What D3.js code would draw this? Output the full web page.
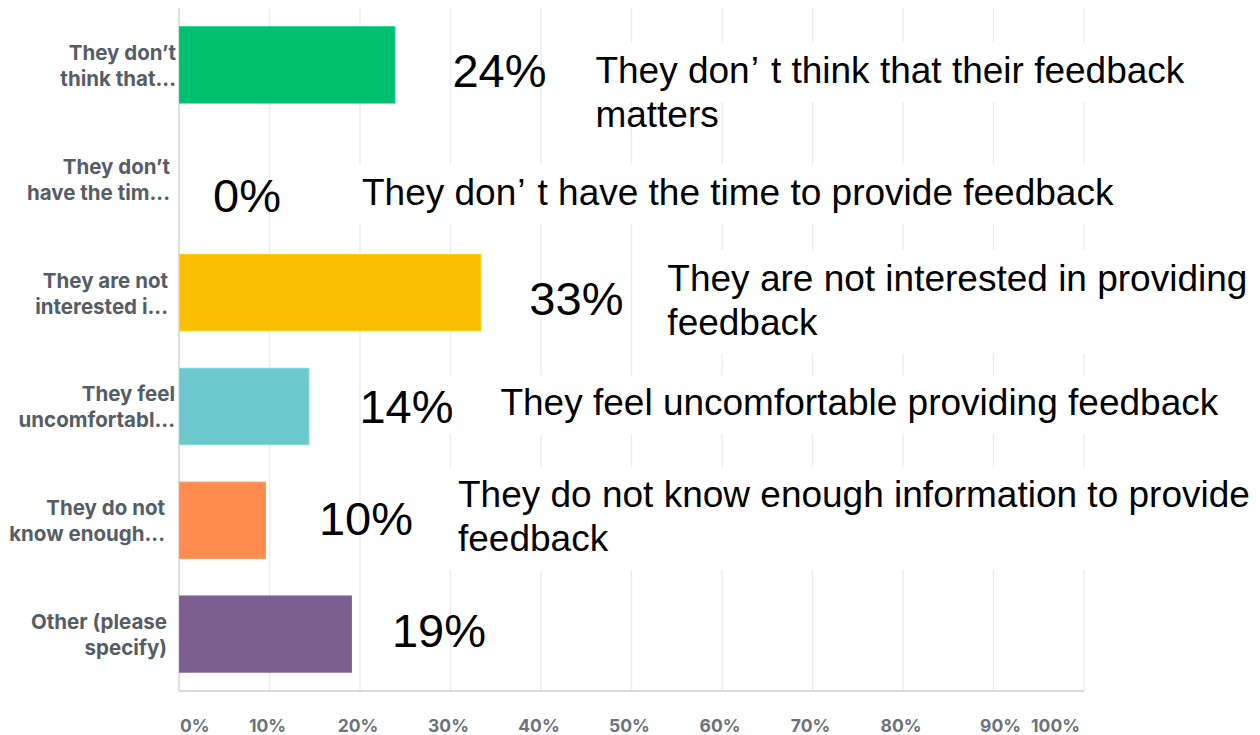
<!DOCTYPE html>
<html>
<head>
<meta charset="utf-8">
<script src="https://cdn.jsdelivr.net/npm/d3@7"></script>
<style>
  html, body { margin: 0; padding: 0; background: #fff; }
  svg { display: block; }
</style>
</head>
<body>
<svg id="chart" width="1260" height="735"></svg>
<script>
// ---------- data ----------
const categories = [
  ["They don’t", "think that..."],
  ["They don’t", "have the tim..."],
  ["They are not", "interested i..."],
  ["They feel", "uncomfortabl..."],
  ["They do not", "know enough..."],
  ["Other (please", "specify)"]
];
const values = [23.8, 0, 33.3, 14.3, 9.5, 19.0];
const barColors = ["#00bf6f", "#507cb6", "#f9be00", "#6bc8cd", "#ff8b4f", "#7d5e90"];
const pctLabels = ["24%", "0%", "33%", "14%", "10%", "19%"];
const annotations = [
  ["They don’t think that their feedback", "matters"],
  ["They don’t have the time to provide feedback"],
  ["They are not interested in providing", "feedback"],
  ["They feel uncomfortable providing feedback"],
  ["They do not know enough information to provide", "feedback"],
  []
];
const tickValues = [0, 10, 20, 30, 40, 50, 60, 70, 80, 90, 100];
const tickLabels = ["0%", "10%", "20%", "30%", "40%", "50%", "60%", "70%", "80%", "90%", "100%"];

// ---------- layout (annotation placement, relative to bar end / band centre) ----------
const pctDx = [58, 34, 49, 51, 54, 41];
const pctDy = [22, 33, 22, 17, 15, 13];
const txtDx = [201, 183, 187, 192, 193, 0];
const txtDy = [18, 26, -2, 9, -13, 0];
const boxPadLeft = [10, 8, 30, 55, 12, 0];
const boxFirstLineOnly = [true, false, false, false, false, false];
const catRight = [176, 170, 168, 175, 165, 167];

// ---------- chart ----------
const svg = d3.select("#chart");
const margin = { left: 179, right: 176, top: 8, bottom: 44 };
const W = 1260, H = 735;
const annFont = 37;

const x = d3.scaleLinear().domain([0, 100]).range([margin.left, W - margin.right]);
const y = d3.scaleBand()
  .domain(d3.range(categories.length))
  .range([margin.top, H - margin.bottom])
  .paddingInner(0.33)
  .paddingOuter(0.165);

const yTop = margin.top, yBot = H - margin.bottom;

// gridlines
svg.append("g").selectAll("line")
  .data(tickValues.filter(d => d > 0))
  .join("line")
  .attr("x1", d => x(d)).attr("x2", d => x(d))
  .attr("y1", yTop).attr("y2", yBot)
  .attr("stroke", "#ebebeb").attr("stroke-width", 1.3);

// white boxes layer (behind annotation texts)
const boxLayer = svg.append("g");

// axes lines
svg.append("line")
  .attr("x1", x(0)).attr("x2", x(0)).attr("y1", yTop).attr("y2", yBot)
  .attr("stroke", "#d4d4d4").attr("stroke-width", 1.5);
svg.append("line")
  .attr("x1", x(0)).attr("x2", x(100)).attr("y1", yBot).attr("y2", yBot)
  .attr("stroke", "#cfcfcf").attr("stroke-width", 1.5);

// bars
svg.append("g").selectAll("rect")
  .data(values)
  .join("rect")
  .attr("x", x(0) + 0.5)
  .attr("y", (d, i) => y(i))
  .attr("width", d => Math.max(0, x(d) - x(0)))
  .attr("height", y.bandwidth())
  .attr("fill", (d, i) => barColors[i])
  .attr("stroke", (d, i) => d3.color(barColors[i]).brighter(0.25))
  .attr("stroke-width", d => d > 0 ? 1 : 0);

// category labels
const catG = svg.append("g");
categories.forEach((lines, i) => {
  const cy = y(i) + y.bandwidth() / 2;
  const t = catG.append("text")
    .attr("text-anchor", "end")
    .attr("font-family", "Inter, 'Open Sans', sans-serif")
    .attr("font-weight", 700)
    .attr("font-size", 20.5)
    .attr("fill", "#555d66");
  lines.forEach((ln, k) => {
    t.append("tspan").attr("x", catRight[i]).attr("y", cy - 5 + k * 26).text(ln);
  });
});

// x tick labels
svg.append("g").selectAll("text")
  .data(tickValues)
  .join("text")
  .attr("x", (d, i) => i === 0 ? x(d) + 1 : i === tickValues.length - 1 ? x(d) - 4 : i === tickValues.length - 2 ? x(d) + 7 : x(d) - 2)
  .attr("y", yBot + 41)
  .attr("text-anchor", (d, i) => i === 0 ? "start" : i === tickValues.length - 1 ? "end" : "middle")
  .attr("font-family", "Inter, 'Open Sans', sans-serif")
  .attr("font-weight", 700)
  .attr("font-size", 17.5)
  .attr("fill", "#6b737c")
  .text((d, i) => tickLabels[i]);

// percent annotations
svg.append("g").selectAll("text")
  .data(values)
  .join("text")
  .attr("x", (d, i) => x(d) + pctDx[i])
  .attr("y", (d, i) => y(i) + y.bandwidth() / 2 + pctDy[i])
  .attr("font-family", "'Liberation Sans', Arial, sans-serif")
  .attr("font-size", 47)
  .attr("fill", "#000")
  .text((d, i) => pctLabels[i]);

// text annotations
const annG = svg.append("g");
annotations.forEach((lines, i) => {
  if (!lines.length) return;
  const cy = y(i) + y.bandwidth() / 2;
  const tx = x(values[i]) + txtDx[i];
  const baseY = cy + txtDy[i];
  const t = annG.append("text")
    .attr("font-family", "'Liberation Sans', Arial, sans-serif")
    .attr("font-size", annFont)
    .attr("fill", "#000");
  const lineNodes = [];
  lines.forEach((ln, k) => {
    const ly = baseY + k * 44;
    const parts = ln.split("’");
    parts.forEach((p, j) => {
      const ts = t.append("tspan").text((j > 0 ? "’" : "") + p);
      if (j === 0) ts.attr("x", tx).attr("y", ly);
      else ts.attr("dx", 1);
    });
    lineNodes.push(ly);
  });
  // widen the gap after the apostrophe, as in the original slide
  t.selectAll("tspan").filter(function () { return this.textContent.startsWith("’"); })
    .each(function () {
      const txt = this.textContent;
      const sel = d3.select(this).text("’");
      const rest = document.createElementNS("http://www.w3.org/2000/svg", "tspan");
      rest.textContent = txt.slice(1);
      rest.setAttribute("dx", 12);
      this.parentNode.insertBefore(rest, this.nextSibling);
    });
  // white box behind text
  const bb = t.node().getBBox();
  const lastBase = boxFirstLineOnly[i] ? lineNodes[0] : lineNodes[lineNodes.length - 1];
  const top = lineNodes[0] - annFont * 0.73 - 13;
  const bottom = lastBase + annFont * 0.21 + 11;
  boxLayer.append("rect")
    .attr("x", tx - boxPadLeft[i])
    .attr("y", top)
    .attr("width", bb.width + boxPadLeft[i] + 12)
    .attr("height", bottom - top)
    .attr("fill", "#fff");
});
</script>
</body>
</html>
